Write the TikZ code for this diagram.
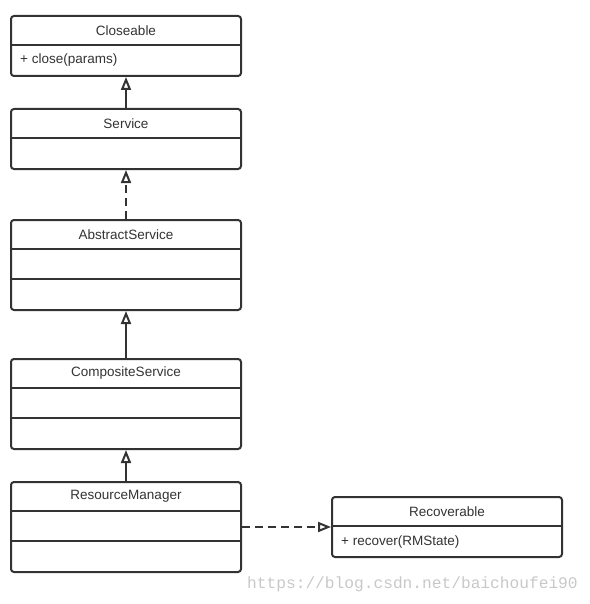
\documentclass[tikz,border=0pt]{standalone}
\usepackage{fontspec}
\setmainfont{Liberation Sans}
\newfontfamily\wmfont{Liberation Mono}
\usetikzlibrary{arrows.meta}
\definecolor{linec}{HTML}{333333}
\definecolor{wmc}{HTML}{C8C8C8}
\tikzset{
  cls/.style={draw=linec, line width=2pt, rounded corners=3pt, minimum width=230pt, anchor=north west, inner sep=0pt, fill=white},
  divl/.style={draw=linec, line width=2pt},
  ctitle/.style={font=\fontsize{13.5}{15}\selectfont, text=linec, inner sep=0pt},
  meth/.style={font=\fontsize{13.5}{15}\selectfont, text=linec, inner sep=0pt, anchor=west},
  gen/.style={draw=linec, line width=2pt, -{Triangle[open, length=13pt, width=10pt]}},
  real/.style={gen, dash pattern=on 8pt off 5pt},
}
\begin{document}
\begin{tikzpicture}[x=1pt, y=-1pt]
\useasboundingbox (0,0) rectangle (589,604);
% Closeable
\node[cls, minimum height=60pt] (closeable) at (10,15) {};
\draw[divl] ([yshift=-30pt]closeable.north west) -- ([yshift=-30pt]closeable.north east);
\node[ctitle] (closeableT) at ([yshift=-15.5pt]closeable.north) {Closeable};
\node[meth] (closeableM) at ([yshift=-45.5pt, xshift=10pt]closeable.north west) {+ close(params)};
% Service
\node[cls, minimum height=60pt] (service) at (10,108) {};
\draw[divl] ([yshift=-30pt]service.north west) -- ([yshift=-30pt]service.north east);
\node[ctitle] (serviceT) at ([yshift=-15.5pt]service.north) {Service};
% AbstractService
\node[cls, minimum height=90pt] (abstract) at (10,219) {};
\draw[divl] ([yshift=-30pt]abstract.north west) -- ([yshift=-30pt]abstract.north east);
\draw[divl] ([yshift=-60pt]abstract.north west) -- ([yshift=-60pt]abstract.north east);
\node[ctitle] (abstractT) at ([yshift=-15.5pt]abstract.north) {AbstractService};
% CompositeService
\node[cls, minimum height=90pt] (composite) at (10,358) {};
\draw[divl] ([yshift=-30pt]composite.north west) -- ([yshift=-30pt]composite.north east);
\draw[divl] ([yshift=-60pt]composite.north west) -- ([yshift=-60pt]composite.north east);
\node[ctitle] (compositeT) at ([yshift=-15.5pt]composite.north) {CompositeService};
% ResourceManager
\node[cls, minimum height=90pt] (resmgr) at (10,481) {};
\draw[divl] ([yshift=-30pt]resmgr.north west) -- ([yshift=-30pt]resmgr.north east);
\draw[divl] ([yshift=-60pt]resmgr.north west) -- ([yshift=-60pt]resmgr.north east);
\node[ctitle] (resmgrT) at ([yshift=-15.5pt]resmgr.north) {ResourceManager};
% Recoverable
\node[cls, minimum height=60pt] (recov) at (331,496) {};
\draw[divl] ([yshift=-30pt]recov.north west) -- ([yshift=-30pt]recov.north east);
\node[ctitle] (recovT) at ([yshift=-15.5pt]recov.north) {Recoverable};
\node[meth] (recovM) at ([yshift=-45.5pt, xshift=10pt]recov.north west) {+ recover(RMState)};
% connectors
\draw[gen] (service.north) -- (closeable.south);
\draw[real] (abstract.north) -- (service.south);
\draw[gen] (composite.north) -- (abstract.south);
\draw[gen] (resmgr.north) -- (composite.south);
\draw[real] (resmgr.east) -- (recov.west);
% watermark
\node[anchor=base west, inner sep=0pt, text=wmc, font=\wmfont\fontsize{16.2}{18}\selectfont] (wm) at (247,588) {https://blog.csdn.net/baichoufei90};
\end{tikzpicture}
\end{document}
